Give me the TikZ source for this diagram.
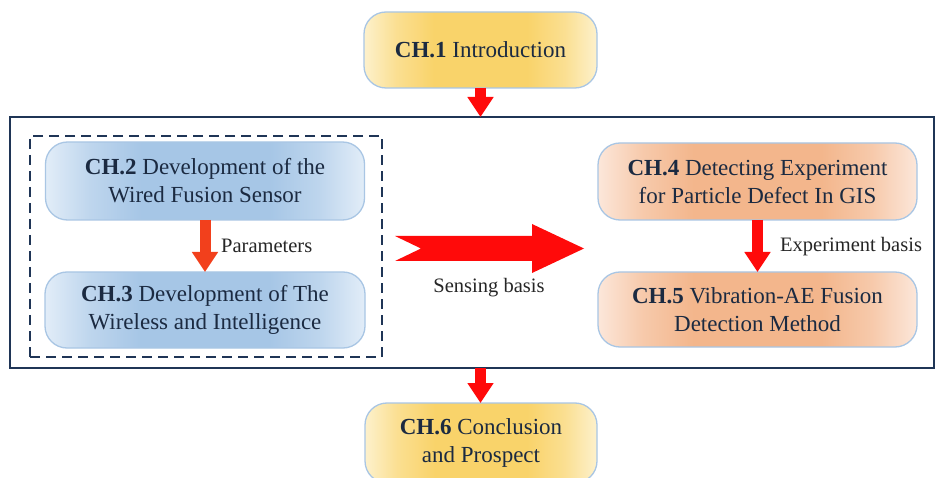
\documentclass[tikz,border=0pt]{standalone}
\usepackage{fontspec}
\setmainfont{Liberation Serif}
\usetikzlibrary{arrows.meta}
\definecolor{txt}{HTML}{1B2A41}
\definecolor{navy}{HTML}{1F3556}
\definecolor{bord}{HTML}{A9C6E4}
\definecolor{yelL}{HTML}{FDF1CC}
\definecolor{yelD}{HTML}{F9D36A}
\definecolor{bluL}{HTML}{E2EDF8}
\definecolor{bluD}{HTML}{A6C6E6}
\definecolor{orL}{HTML}{FCE7DA}
\definecolor{orD}{HTML}{F3B68C}
\definecolor{arrred}{HTML}{FF0A0A}
\definecolor{arrorg}{HTML}{F2401C}
\pgfdeclarehorizontalshading{yelshade}{100bp}{color(0bp)=(yelL); color(25bp)=(yelL);
  color(32bp)=(yelD!60!yelL); color(40bp)=(yelD); color(60bp)=(yelD);
  color(68bp)=(yelD!60!yelL); color(75bp)=(yelL); color(100bp)=(yelL)}
\pgfdeclarehorizontalshading{blushade}{100bp}{color(0bp)=(bluL); color(25bp)=(bluL);
  color(32bp)=(bluD!60!bluL); color(40bp)=(bluD); color(60bp)=(bluD);
  color(68bp)=(bluD!60!bluL); color(75bp)=(bluL); color(100bp)=(bluL)}
\pgfdeclarehorizontalshading{orshade}{100bp}{color(0bp)=(orL); color(25bp)=(orL);
  color(32bp)=(orD!60!orL); color(40bp)=(orD); color(60bp)=(orD);
  color(68bp)=(orD!60!orL); color(75bp)=(orL); color(100bp)=(orL)}
\tikzset{
  chbox/.style={draw=bord, line width=1.3pt, rounded corners=22pt, align=center,
    text=txt, font=\fontsize{23}{28}\selectfont, inner sep=0pt, outer sep=0pt},
  yelbox/.style={chbox, shading=yelshade},
  blubox/.style={chbox, shading=blushade},
  orbox/.style={chbox, shading=orshade},
  blockarrow/.style={draw=arrred, line width=11pt,
    -{Triangle[length=20pt,width=25pt]}},
  lbl/.style={text=black!85, font=\fontsize{20.5}{24}\selectfont, inner sep=0pt},
}
\begin{document}
\begin{tikzpicture}[x=1pt,y=-1pt]
\clip (0,0) rectangle (937,478);
\fill[white] (0,0) rectangle (937,478);
% outer and dashed frames
\node[draw=navy, line width=2.5pt, minimum width=924pt, minimum height=251pt,
  inner sep=0pt, outer sep=0pt] (outer) at (472,242.5) {};
\node[draw=navy, line width=2.3pt, dash pattern=on 10pt off 6pt, minimum width=352pt,
  minimum height=221pt, inner sep=0pt, outer sep=0pt] (dashbox) at (206,246.5) {};
% chapter boxes
\node[yelbox, minimum width=233pt, minimum height=76pt] (ch1) at (480.5,50)
  {\textbf{CH.1} Introduction};
\node[blubox, minimum width=319pt, minimum height=78pt] (ch2) at (205,181)
  {\textbf{CH.2} Development of the\\Wired Fusion Sensor};
\node[blubox, minimum width=320pt, minimum height=76pt] (ch3) at (205,310)
  {\textbf{CH.3} Development of The\\Wireless and Intelligence};
\node[orbox, minimum width=319pt, minimum height=77pt] (ch4) at (757.5,181.5)
  {\textbf{CH.4} Detecting Experiment\\for Particle Defect In GIS};
\node[orbox, minimum width=319pt, minimum height=75pt] (ch5) at (757.5,309.5)
  {\textbf{CH.5} Vibration-AE Fusion\\Detection Method};
\node[yelbox, minimum width=232pt, minimum height=80pt] (ch6) at (481,443)
  {\textbf{CH.6} Conclusion\\and Prospect};
% small arrows
\draw[blockarrow] (ch1.south) -- (ch1.south |- outer.north);
\draw[blockarrow] (ch1.south |- outer.south) -- (ch1.south |- ch6.north);
\draw[blockarrow, draw=arrorg] (ch2.south) -- (ch3.north);
\draw[blockarrow] (ch4.south) -- (ch5.north);
% labels
\node[lbl, anchor=west] (lpar) at (221,246) {Parameters};
\node[lbl, anchor=west] (lexp) at (780,247) {Experiment basis};
\node[lbl] (lsens) at (489,288) {Sensing basis};
% big arrow
\fill[arrred] (395,236) -- (532,236) -- (532,224) -- (584,248.5) -- (532,273)
  -- (532,261) -- (395,261) -- (421,248.5) -- cycle;
\end{tikzpicture}
\end{document}
